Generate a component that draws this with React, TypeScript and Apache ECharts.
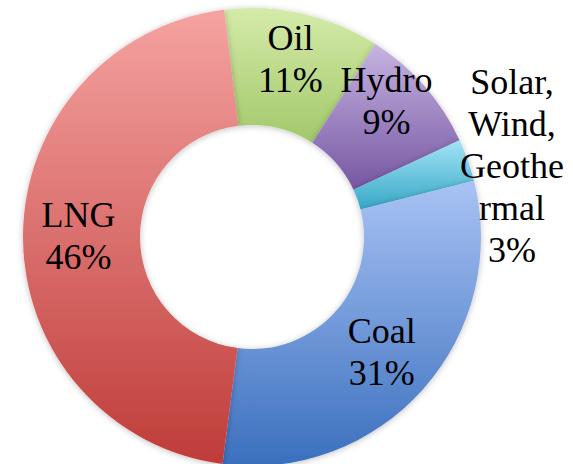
import React, { useEffect, useRef } from "react";
import * as echarts from "echarts";

// Data (clockwise from the top)
const names = ["Oil", "Hydro", "Solar, Wind, Geothermal", "Coal", "LNG"];
const labelTexts = ["Oil", "Hydro", "Solar,\nWind,\nGeothe\nrmal", "Coal", "LNG"];
const values = [11, 9, 3, 31, 46];
const topColors = ["#d5eba9", "#c6b4e0", "#a3e3f6", "#a9c3f4", "#f5a3a1"];
const bottomColors = ["#a2c86a", "#7656a3", "#36a8c6", "#3a6fbe", "#bf3c39"];

const FONT = "Liberation Serif";

export default function App() {
  const ref = useRef<HTMLDivElement>(null);
  useEffect(() => {
    if (!ref.current) return;
    const chart = echarts.init(ref.current, null, { renderer: "svg" });
    const data = names.map((n, i) => ({
      name: n,
      value: values[i],
      itemStyle: {
        color: new echarts.graphic.LinearGradient(0, 0, 0, 1, [
          { offset: 0, color: topColors[i] },
          { offset: 1, color: bottomColors[i] },
        ]),
      },
    }));
    chart.setOption({
      animation: false,
      backgroundColor: "#ffffff",
      textStyle: { fontFamily: FONT },
      series: [
        {
          type: "pie",
          center: [252, 237],
          radius: [112, 229],
          startAngle: 97,
          clockwise: true,
          avoidLabelOverlap: false,
          itemStyle: {
            shadowBlur: 6,
            shadowColor: "rgba(0,0,0,0.25)",
            shadowOffsetY: 1,
          },
          label: {
            show: true,
            position: "inside",
            color: "#000000",
            align: "center",
            formatter: (p: any) => `{t|${labelTexts[p.dataIndex]}\n${p.value}%}`,
            rich: {
              t: {
                fontFamily: FONT,
                fontSize: 36,
                lineHeight: 42,
                color: "#000000",
                align: "center",
              },
            },
          },
          labelLine: { show: false },
          labelLayout: (p: any) => {
            if (p.dataIndex === 0) return { dy: -9 };
            if (p.dataIndex === 1) return { dx: 4, dy: -22 };
            if (p.dataIndex === 2)
              return { x: 512, y: 166, align: "center", verticalAlign: "middle" };
            return {};
          },
          emphasis: { disabled: true },
          data,
        },
      ],
    });
    return () => chart.dispose();
  }, []);
  return (
    <div
      ref={ref}
      style={{ position: "absolute", left: 0, top: 0, width: 573, height: 464 }}
    />
  );
}
